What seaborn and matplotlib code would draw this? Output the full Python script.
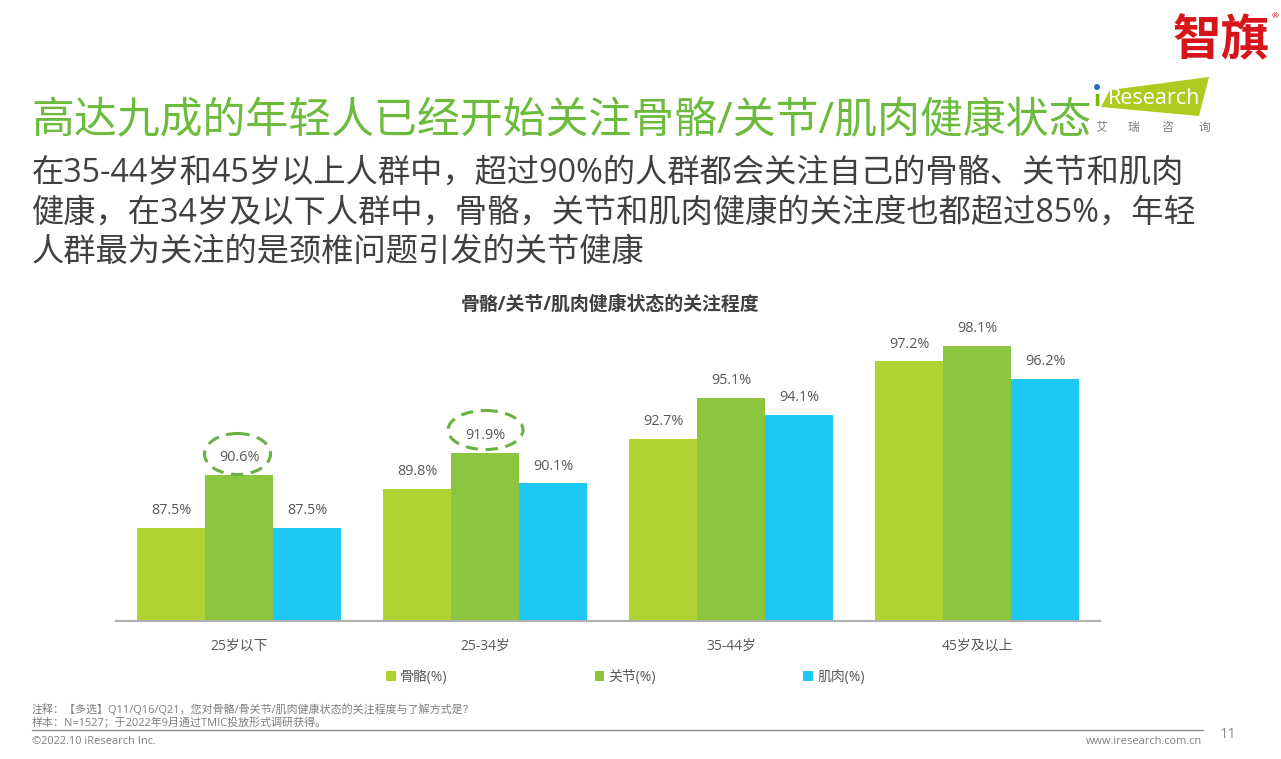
#!/usr/bin/env python3

import pandas as pd
import seaborn as sns
import matplotlib.pyplot as plt
from matplotlib.patches import Ellipse, Polygon

ages = ["25岁以下", "25-34岁", "35-44岁", "45岁及以上"]
series_names = ["骨骼(%)", "关节(%)", "肌肉(%)"]
bones = [87.5, 89.8, 92.7, 97.2]
joints = [90.6, 91.9, 95.1, 98.1]
muscles = [87.5, 90.1, 94.1, 96.2]
colors = ["#B0D232", "#8CC63F", "#1EC8F5"]

title = "高达九成的年轻人已经开始关注骨骼/关节/肌肉健康状态"
subtitle = ["在35-44岁和45岁以上人群中，超过90%的人群都会关注自己的骨骼、关节和肌肉",
            "健康，在34岁及以下人群中，骨骼，关节和肌肉健康的关注度也都超过85%，年轻",
            "人群最为关注的是颈椎问题引发的关节健康"]
chart_title = "骨骼/关节/肌肉健康状态的关注程度"
notes = ["注释：【多选】Q11/Q16/Q21，您对骨骼/骨关节/肌肉健康状态的关注程度与了解方式是？",
         "样本：N=1527；于2022年9月通过TMIC投放形式调研获得。"]

df = pd.DataFrame({"age": ages, series_names[0]: bones,
                   series_names[1]: joints, series_names[2]: muscles})
df = df.melt(id_vars="age", var_name="part", value_name="value")

sns.set_style("white")
plt.rcParams['font.family'] = ['Open Sans', 'Noto Sans CJK SC', 'DejaVu Sans']

W, H = 1281, 759
fig = plt.figure(figsize=(W / 100, H / 100), dpi=100)
ax = fig.add_axes([116 / W, 1 - 621 / H, 984 / W, 300 / H])

sns.barplot(data=df, x="age", y="value", hue="part", palette=colors,
            width=0.83, gap=0, saturation=1, errorbar=None, linewidth=0, ax=ax)
ax.set_xlim(-0.5, 3.5)
ax.set_ylim(82.1, 99.55)
ax.set_xlabel("")
ax.set_ylabel("")
ax.set_yticks([])
ax.tick_params(axis="x", length=0, pad=13, labelsize=10, labelcolor="#595959")
sns.despine(ax=ax, left=True)
ax.spines["bottom"].set_color("#b0b0b0")
ax.spines["bottom"].set_linewidth(1.5)
for c in ax.containers:
    ax.bar_label(c, fmt="%.1f%%", padding=7, fontsize=10.4, color="#595959")

ax.legend(loc="center left", bbox_to_anchor=(270 / 984, -56 / 300), ncol=3,
          frameon=False, fontsize=10, handlelength=0.7, handleheight=0.7,
          handletextpad=0.3, columnspacing=10.6, labelcolor="#595959",
          borderpad=0, borderaxespad=0)

# overlay in pixel coordinates for page furniture
page = fig.add_axes([0, 0, 1, 1], facecolor="none")
page.set_xlim(0, W)
page.set_ylim(H, 0)
page.axis("off")

page.text(32, 122, title, fontsize=30.9, color="#6CBB3C", va="center")
for y, line in zip([173, 213, 252], subtitle):
    page.text(32, y, line, fontsize=23.2, color="#404040", va="center")
page.text(610, 305, chart_title, fontsize=13.6, fontweight="bold",
          color="#404040", ha="center", va="center")

page.add_patch(Ellipse((237.5, 454), 66, 41, fill=False, ec="#6AB043", lw=2.2,
                       ls=(0, (4, 2.5))))
page.add_patch(Ellipse((485.5, 430), 75, 39, fill=False, ec="#6AB043", lw=2.2,
                       ls=(0, (4, 2.5))))

# logos
page.text(1221, 43, "智旗", fontsize=35, fontweight="bold", color="#D7141A",
          ha="center", va="center")
page.text(1275, 17, "®", fontsize=6, color="#D7141A", ha="center", va="center")
page.add_patch(Polygon([(1110, 90), (1209, 77), (1199, 116), (1101, 107)],
                       fc="#B0CB1F", ec="none"))
page.text(1108, 98, "Research", fontsize=15.5, color="white", va="center")
page.text(1097, 100, "ı", fontsize=15, color="#7AB800", ha="center", va="center",
          family="DejaVu Sans", fontweight="bold")
page.add_patch(Ellipse((1097, 87), 6, 6, fc="#2A6EBB", ec="none"))
for x, ch in zip([1101, 1133, 1167, 1204], "艾瑞咨询"):
    page.text(x, 127, ch, fontsize=8.5, color="#7f7f7f", ha="center", va="center")

# footer
for y, line in zip([710, 723], notes):
    page.text(32, y, line, fontsize=7.9, color="#7f7f7f", va="center")
page.plot([32, 1203], [730, 730], color="#8c8c8c", lw=1)
page.text(32, 741, "©2022.10 iResearch Inc.", fontsize=7.9, color="#7f7f7f", va="center")
page.text(1202, 741, "www.iresearch.com.cn", fontsize=7.9, color="#7f7f7f",
          ha="right", va="center")
page.text(1228, 735, "11", fontsize=10.5, color="#8c8c8c", ha="center", va="center")

fig.savefig("out.png", dpi=100)
